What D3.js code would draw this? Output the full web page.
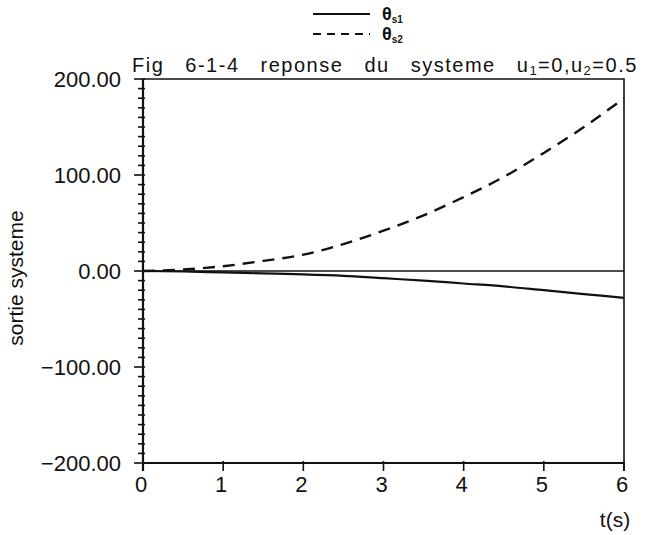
<!DOCTYPE html>
<html>
<head>
<meta charset="utf-8">
<script src="https://cdn.jsdelivr.net/npm/d3@7"></script>
<style>
  body { margin: 0; background: #fff; }
  text { font-family: "Liberation Sans", Arial, sans-serif; fill: #111; }
</style>
</head>
<body>
<div id="chart"></div>
<script>
// values
const times = [0, 0.5, 1, 1.5, 2, 2.5, 3, 3.5, 4, 4.5, 5, 5.5, 6];
const thetaS1 = [0, -0.5, -1.5, -2.5, -3.5, -5, -7.5, -10, -13, -16, -20, -24, -28];
const thetaS2 = [0, 1.5, 5, 10.5, 17, 28, 42, 58, 77, 98, 123, 150, 180];
const xTicks = [0, 1, 2, 3, 4, 5, 6];
const yTicks = [-200, -100, 0, 100, 200];

const W = 659, H = 535;
const svg = d3.select("#chart").append("svg")
    .attr("width", W)
    .attr("height", H);

const x = d3.scaleLinear().domain([0, 6]).range([143, 624]);
const y = d3.scaleLinear().domain([-200, 200]).range([463, 79]);

const ink = "#111";

// frame (top + right), the axes are drawn below
svg.append("path")
    .attr("d", `M${x(0)},${y(200)}H${x(6)}V${y(-200) + 8}`)
    .attr("fill", "none")
    .attr("stroke", ink)
    .attr("stroke-width", 1.6);

// y axis with minor ticks every 10
const yAxis = svg.append("g").attr("transform", `translate(${x(0)},0)`);
yAxis.append("line")
    .attr("y1", y(200)).attr("y2", y(-200) + 8)
    .attr("stroke", ink).attr("stroke-width", 2.2);
yAxis.selectAll(".minor")
    .data(d3.range(-200, 201, 10))
    .join("line")
    .attr("x1", d => d % 100 === 0 ? -9 : -5)
    .attr("x2", 2)
    .attr("y1", d => y(d)).attr("y2", d => y(d))
    .attr("stroke", ink).attr("stroke-width", 1.6);
yAxis.selectAll(".lab")
    .data(yTicks)
    .join("text")
    .attr("x", -22)
    .attr("y", d => y(d) + 8)
    .attr("text-anchor", "end")
    .attr("font-size", 22)
    .text(d => (d < 0 ? "\u2212" : "") + Math.abs(d).toFixed(2));

// x axis
const xAxis = svg.append("g").attr("transform", `translate(0,${y(-200)})`);
xAxis.append("line")
    .attr("x1", x(0)).attr("x2", x(6))
    .attr("stroke", ink).attr("stroke-width", 1.8);
xAxis.selectAll(".tick")
    .data(xTicks)
    .join("line")
    .attr("x1", d => x(d)).attr("x2", d => x(d))
    .attr("y1", -2).attr("y2", 8)
    .attr("stroke", ink).attr("stroke-width", 1.6);
xAxis.selectAll(".lab")
    .data(xTicks)
    .join("text")
    .attr("x", d => x(d) - 2)
    .attr("y", 29)
    .attr("text-anchor", "middle")
    .attr("font-size", 22)
    .text(d => d);

svg.append("text")
    .attr("x", 615).attr("y", 527)
    .attr("text-anchor", "middle")
    .attr("font-size", 21)
    .text("t(s)");

svg.append("text")
    .attr("transform", `translate(23,${278}) rotate(-90)`)
    .attr("text-anchor", "middle")
    .attr("font-size", 21)
    .text("sortie systeme");

// zero reference line
svg.append("line")
    .attr("x1", x(0)).attr("x2", x(6))
    .attr("y1", y(0)).attr("y2", y(0))
    .attr("stroke", ink).attr("stroke-width", 1.4);

// curves
const pts = (vals) => times.map((t, i) => [t, vals[i]]);
const line = d3.line().x(d => x(d[0])).y(d => y(d[1])).curve(d3.curveMonotoneX);

svg.append("path")
    .attr("d", line(pts(thetaS1)))
    .attr("fill", "none").attr("stroke", ink).attr("stroke-width", 2.2);

svg.append("path")
    .attr("d", line(pts(thetaS2)))
    .attr("fill", "none").attr("stroke", ink).attr("stroke-width", 2.4)
    .attr("stroke-dasharray", "12,8");

// title
const title = svg.append("text")
    .attr("x", 132).attr("y", 72)
    .attr("font-size", 20)
    .attr("letter-spacing", 1.5)
    .attr("word-spacing", 14);
title.append("tspan").text("Fig 6-1-4 reponse du systeme u");
title.append("tspan").attr("font-size", 13).attr("dy", 3).text("1");
title.append("tspan").attr("dy", -3).text("=0,u");
title.append("tspan").attr("font-size", 13).attr("dy", 3).text("2");
title.append("tspan").attr("dy", -3).text("=0.5");

// legend
const legend = [
    { name: "1", dash: null, y: 14 },
    { name: "2", dash: "8,6", y: 34 }
];
const lg = svg.append("g");
legend.forEach(l => {
    lg.append("line")
        .attr("x1", 313).attr("x2", 370)
        .attr("y1", l.y).attr("y2", l.y)
        .attr("stroke", ink).attr("stroke-width", 2)
        .attr("stroke-dasharray", l.dash);
    const t = lg.append("text")
        .attr("x", 382).attr("y", l.y + 6)
        .attr("font-size", 18)
        .attr("font-weight", "bold");
    t.append("tspan").text("\u03b8");
    t.append("tspan").attr("font-size", 10).attr("dy", 3).text("s" + l.name);
});
</script>
</body>
</html>
